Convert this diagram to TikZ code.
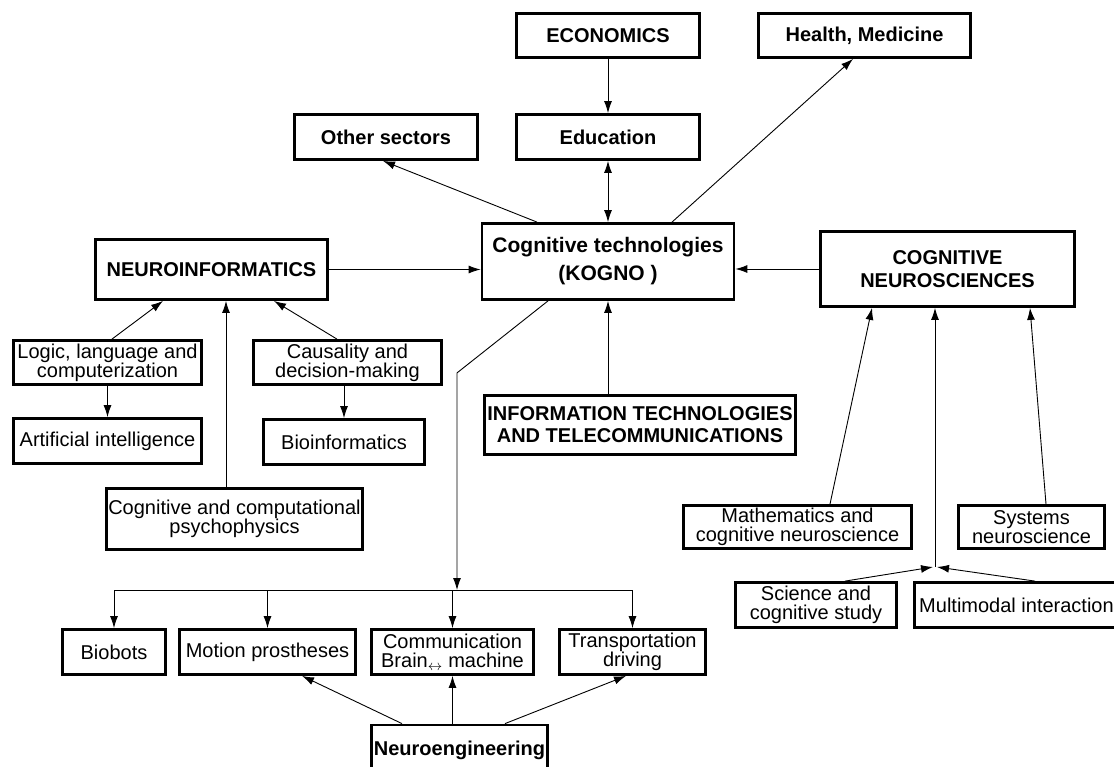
\documentclass[tikz,border=0pt]{standalone}
\usepackage{fontspec}
\setmainfont{Liberation Sans}
\usetikzlibrary{arrows.meta, positioning, calc}

\begin{document}
\begin{tikzpicture}[
    x=1pt, y=-1pt,
    box/.style={draw, line width=2.8pt, align=center, inner sep=2pt,
      font=\fontsize{20}{19}\selectfont},
    hd/.style={box, font=\fontsize{20}{23}\selectfont\bfseries}]

  \tikzset{ptr/.style={line width=0.9pt, ->, >={Latex[length=12pt, width=8pt]}}}
  \tikzset{dptr/.style={ptr, <->}}

  \clip (0, 0) rectangle (1114, 766);

  % sectors
  \node[hd, minimum width=183, minimum height=44] at (608, 35.5) (econ) {ECONOMICS};
  \node[hd, minimum width=212, minimum height=44] at (864.5, 35.5) (health) {Health, Medicine};
  \node[hd, minimum width=183, minimum height=45] at (386, 137) (other) {Other sectors};
  \node[hd, minimum width=183, minimum height=45] at (608, 137) (edu) {Education};

  % main row
  \node[hd, minimum width=252, minimum height=76, font=\fontsize{21}{28}\selectfont\bfseries]
    at (608, 261.5) (kogno) {Cognitive technologies\\(KOGNO )};
  \node[hd, minimum width=232, minimum height=60] at (211.5, 269.5) (neuroinf) {NEUROINFORMATICS};
  \node[hd, minimum width=254, minimum height=75] at (947.5, 269) (cogneuro) {COGNITIVE\\NEUROSCIENCES};
  \node[hd, minimum width=311, minimum height=59, font=\fontsize{20}{22}\selectfont\bfseries]
    at (640, 425) (itt) {INFORMATION TECHNOLOGIES\\AND TELECOMMUNICATIONS};

  % neuroinformatics branch
  \node[box, minimum width=188, minimum height=44] at (107.5, 362.5) (logic) {Logic, language and\\computerization};
  \node[box, minimum width=188, minimum height=44] at (347.5, 362.5) (causal) {Causality and\\decision-making};
  \node[box, minimum width=188, minimum height=45] at (107.5, 441) (ai) {Artificial intelligence};
  \node[box, minimum width=161, minimum height=45] at (344, 442) (bioinf) {Bioinformatics};
  \node[box, minimum width=252, minimum height=61] at (234.5, 519) (psycho) {Cognitive and computational\\psychophysics};

  % neuroscience branch
  \node[box, minimum width=228, minimum height=43] at (797.5, 527) (math) {Mathematics and\\cognitive neuroscience};
  \node[box, minimum width=146, minimum height=43] at (1031.5, 527) (systems) {Systems\\neuroscience};
  \node[box, minimum width=161, minimum height=45] at (816, 605) (science) {Science and\\cognitive study};
  \node[box, minimum width=204, minimum height=45] at (1016.5, 605) (multi) {Multimodal interaction};

  % applications
  \node[box, minimum width=103, minimum height=45] at (114, 652) (biobots) {Biobots};
  \node[box, minimum width=176, minimum height=45] at (267.5, 652) (motion) {Motion prostheses};
  \node[box, minimum width=162, minimum height=45] at (452.5, 652) (comm) {Communication\\Brain$_{\leftrightarrow}$ machine};
  \node[box, minimum width=146, minimum height=45] at (632.5, 652) (transport) {Transportation\\driving};
  \node[hd, minimum width=176, minimum height=50] at (459.5, 750) (neuroeng) {Neuroengineering};

  % sector pointers
  \draw[ptr] (econ) -- (edu);
  \draw[dptr] (edu) -- (kogno);
  \draw[ptr] ([xshift=-71pt]kogno.north) -- ([xshift=-3pt]other.south);
  \draw[ptr] ([xshift=64pt]kogno.north) -- ([xshift=-11.5pt]health.south);

  % into neuroinformatics
  \draw[ptr] ([xshift=4.5pt]logic.north) -- ([xshift=-48.5pt]neuroinf.south);
  \draw[ptr] ([xshift=-8.5pt]psycho.north) -- ([xshift=-8.5pt]psycho.north |- neuroinf.south);
  \draw[ptr] ([xshift=-10.5pt]causal.north) -- ([xshift=62.5pt]neuroinf.south);
  \draw[ptr] (logic) -- (ai);
  \draw[ptr] (bioinf.north |- causal.south) -- (bioinf.north);

  % into kogno
  \draw[ptr] (neuroinf.east) -- (neuroinf.east -| kogno.west);
  \draw[ptr] (cogneuro.west) -- (cogneuro.west -| kogno.east);
  \draw[ptr] (kogno.south |- itt.north) -- (kogno.south);

  % into cognitive neurosciences
  \coordinate (join) at (935, 567);
  \draw[ptr] ([xshift=32.5pt]math.north) -- ([xshift=-75.5pt]cogneuro.south);
  \draw[ptr] (join) -- (join |- cogneuro.south);
  \draw[ptr] ([xshift=14.5pt]systems.north) -- ([xshift=82.5pt]cogneuro.south);
  \draw[ptr] ([xshift=29pt]science.north) -- ([xshift=-2pt]join);
  \draw[ptr] ([xshift=18.5pt]multi.north) -- ([xshift=2pt]join);

  % applications bus
  \coordinate (hub) at (457, 590);
  \draw[ptr] ([xshift=-60pt]kogno.south) -- ++(-91, 72) -- (hub);
  \draw[line width=0.9pt] (biobots.north |- hub) -- (transport.north |- hub);
  \foreach \n in {biobots, motion, comm, transport}
    \draw[ptr] (\n.north |- hub) -- (\n.north);

  % neuroengineering
  \draw[ptr] ([xshift=-57.5pt]neuroeng.north) -- ([xshift=34.5pt]motion.south);
  \draw[ptr] (comm.south |- neuroeng.north) -- (comm.south);
  \draw[ptr] ([xshift=45.5pt]neuroeng.north) -- ([xshift=-6.5pt]transport.south);
\end{tikzpicture}
\end{document}
